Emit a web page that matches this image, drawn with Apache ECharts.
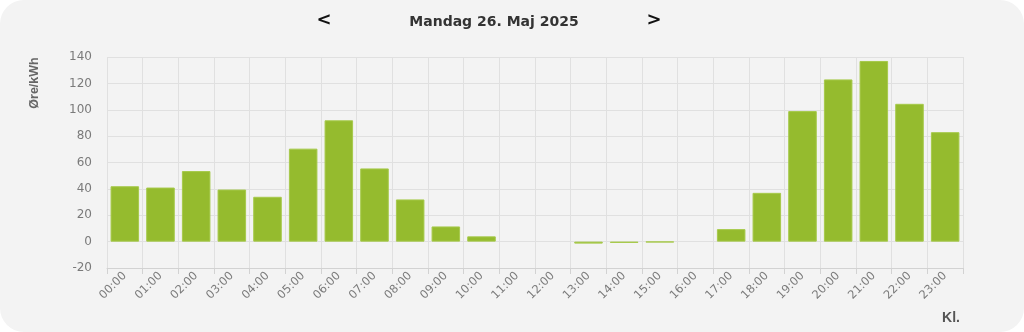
<!DOCTYPE html>
<html>
<head>
<meta charset="utf-8">
<script src="https://cdn.jsdelivr.net/npm/echarts@6/dist/echarts.min.js"></script>
<style>
html,body{margin:0;padding:0;background:#ffffff;width:1024px;height:332px;overflow:hidden;}
#card{position:absolute;left:0;top:0;width:1024px;height:332px;background:#f3f3f3;border-radius:24px;}
#chart{width:1024px;height:332px;}
</style>
</head>
<body>
<div id="card"><div id="chart"></div></div>
<script>
const hours = ["00:00","01:00","02:00","03:00","04:00","05:00","06:00","07:00","08:00","09:00","10:00","11:00","12:00","13:00","14:00","15:00","16:00","17:00","18:00","19:00","20:00","21:00","22:00","23:00"];
const prices = [42, 41, 53.5, 39.5, 34, 70.5, 92, 55.5, 32, 11.5, 4, null, null, -1.5, -1, -0.5, null, 9.5, 37, 99, 123, 137, 104.5, 83];
const yTicks = {min: -20, max: 140, interval: 20};
const titleText = "Mandag 26. Maj 2025";
const yName = "Øre/kWh";
const xName = "Kl.";

const chart = echarts.init(document.getElementById('chart'), null, {renderer: 'canvas'});
chart.setOption({
  backgroundColor: 'transparent',
  animation: false,
  title: {
    text: titleText, left: 489, top: 10, textAlign: 'center',
    textStyle: {fontFamily: 'DejaVu Sans', fontWeight: 'bold', fontSize: 14, color: '#333'}
  },
  graphic: [
    {type: 'text', x: 324, y: 20, style: {text: '<', font: 'bold 18px "DejaVu Sans"', fill: '#111', align: 'center', verticalAlign: 'middle'}},
    {type: 'text', x: 35, y: 83, rotation: Math.PI / 2, style: {text: yName, font: 'bold 12.5px "Liberation Sans"', fill: '#666', align: 'center', verticalAlign: 'middle'}},
    {type: 'text', x: 654, y: 20, style: {text: '>', font: 'bold 18px "DejaVu Sans"', fill: '#111', align: 'center', verticalAlign: 'middle'}},
    {type: 'text', x: 951, y: 318, style: {text: xName, font: 'bold 14px "Liberation Sans"', fill: '#555', align: 'center', verticalAlign: 'middle'}}
  ],
  grid: {left: 107, right: 61, top: 57, bottom: 64},
  xAxis: {
    type: 'category', data: hours, boundaryGap: true,
    axisLine: {onZero: false, lineStyle: {color: '#d2d2d2'}},
    axisTick: {show: true, length: 6, lineStyle: {color: '#d2d2d2'}},
    axisLabel: {rotate: 45, color: '#7a7a7a', fontSize: 11.5, fontFamily: 'DejaVu Sans', margin: 6, interval: 0},
    splitLine: {show: true, lineStyle: {color: '#e0e0e0'}}
  },
  yAxis: {
    type: 'value', min: yTicks.min, max: yTicks.max, interval: yTicks.interval,
    axisLine: {show: false}, axisTick: {show: false},
    axisLabel: {color: '#7a7a7a', fontSize: 12, fontFamily: 'DejaVu Sans', margin: 15},
    splitLine: {show: true, lineStyle: {color: '#e0e0e0'}}
  },
  series: [{
    type: 'bar', data: prices, barCategoryGap: '20%',
    itemStyle: {color: '#95bb2e', borderColor: '#a6c94a', borderWidth: 1}
  }]
});
</script>
</body>
</html>
